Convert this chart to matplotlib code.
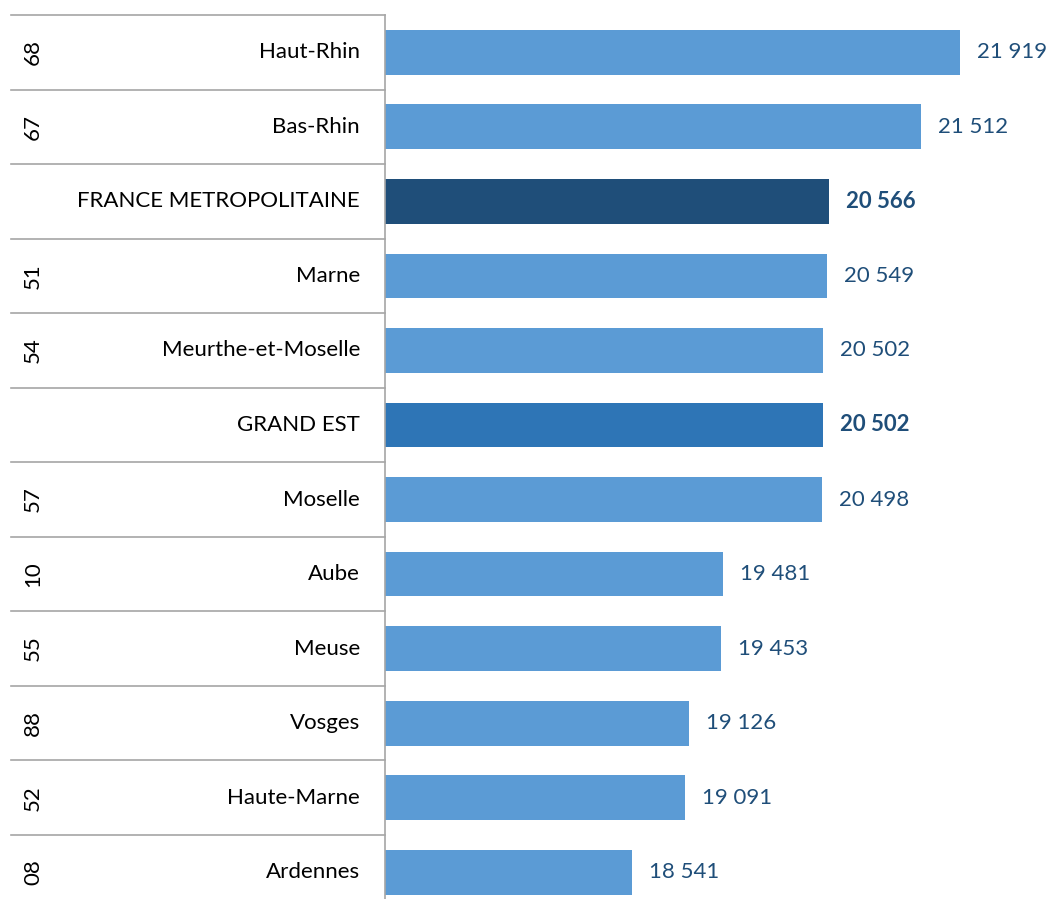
import matplotlib
matplotlib.use("Agg")
import matplotlib.pyplot as plt
from matplotlib.transforms import blended_transform_factory

plt.rcParams['font.family'] = ['Lato', 'DejaVu Sans']

codes = ["68", "67", "", "51", "54", "", "57", "10", "55", "88", "52", "08"]
names = ["Haut-Rhin", "Bas-Rhin", "FRANCE METROPOLITAINE", "Marne", "Meurthe-et-Moselle",
         "GRAND EST", "Moselle", "Aube", "Meuse", "Vosges", "Haute-Marne", "Ardennes"]
values = [21919, 21512, 20566, 20549, 20502, 20502, 20498, 19481, 19453, 19126, 19091, 18541]
highlight = ["", "", "france", "", "", "region", "", "", "", "", "", ""]

col_default = "#5B9BD5"
col_france = "#1F4E79"
col_region = "#2E75B6"
col_label = "#1F4E79"
col_grid = "#A6A6A6"

W, H = 1053, 899
fig = plt.figure(figsize=(W / 100, H / 100), dpi=100)
ax_left, ax_right = 385, 1053
ax_top, ax_bottom = 15, 909.5
ax = fig.add_axes([ax_left / W, (H - ax_bottom) / H, (ax_right - ax_left) / W, (ax_bottom - ax_top) / H])

xmin = 16000
xmax = xmin + (ax_right - ax_left) / 0.0972
ax.set_xlim(xmin, xmax)
n = len(names)
ax.set_ylim(n - 0.5, -0.5)

colors = []
for h in highlight:
    colors.append(col_france if h == "france" else col_region if h == "region" else col_default)

ypos = list(range(n))
ax.barh(ypos, [v - xmin for v in values], left=xmin, height=0.6, color=colors, zorder=2)

for spine in ["top", "right", "bottom"]:
    ax.spines[spine].set_visible(False)
ax.spines["left"].set_color(col_grid)
ax.spines["left"].set_linewidth(1.2)
ax.set_xticks([])
ax.set_yticks([])

axw = ax_right - ax_left
trans = blended_transform_factory(ax.transAxes, ax.transData)

def fmt(v):
    return f"{v:,}".replace(",", " ")

fs = 16
for i, (c, nm, v, h) in enumerate(zip(codes, names, values, highlight)):
    ax.text(-25 / axw, i, nm, transform=trans, ha="right", va="center", fontsize=fs, color="black")
    if c:
        ax.text((33 - ax_left) / axw, i, c, transform=trans, ha="center", va="center",
                rotation=90, fontsize=fs, color="black")
    ax.annotate(fmt(v), xy=(v, i), xytext=(17, 0), textcoords="offset pixels",
                ha="left", va="center", fontsize=fs, color=col_label,
                fontweight="bold" if h else "normal")

for b in range(n + 1):
    ax.plot([(11 - ax_left) / axw, 0], [b - 0.5, b - 0.5], transform=trans, color=col_grid,
            linewidth=1.2, clip_on=False, zorder=1)

fig.savefig("out.png", dpi=100)
